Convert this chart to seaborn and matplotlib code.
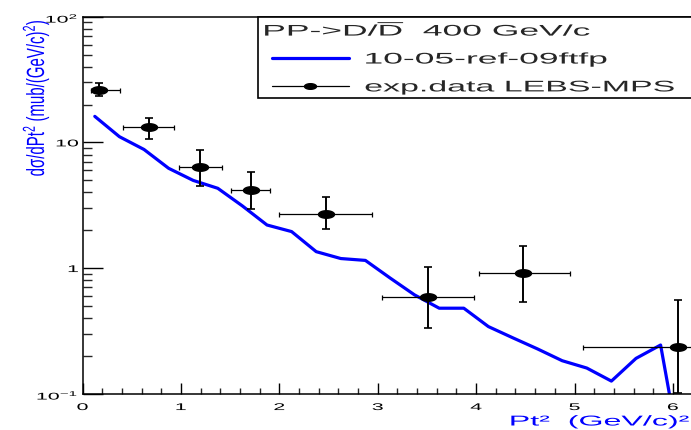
import numpy as np
import matplotlib
matplotlib.use("Agg")
import matplotlib.pyplot as plt
import seaborn as sns
import matplotlib.patheffects as pe
from matplotlib.path import Path
from matplotlib.transforms import Affine2D
from matplotlib.ticker import MultipleLocator, LogLocator, NullFormatter
from matplotlib.lines import Line2D
from matplotlib.legend_handler import HandlerLine2D

# ---------------- data ----------------
model_x = [0.125, 0.375, 0.625, 0.875, 1.125, 1.375, 1.625, 1.875, 2.125, 2.375,
           2.625, 2.875, 3.125, 3.375, 3.625, 3.875, 4.125, 4.375, 4.625, 4.875,
           5.125, 5.375, 5.625, 5.875, 6.125]
model_y = [16.1, 11.1, 8.78, 6.22, 4.98, 4.31, 3.12, 2.20, 1.95, 1.35,
           1.19, 1.15, 0.834, 0.611, 0.479, 0.479, 0.342, 0.278, 0.227, 0.183,
           0.160, 0.126, 0.191, 0.244, 0.02]

exp_x = [0.171, 0.679, 1.194, 1.712, 2.472, 3.508, 4.480, 6.055]
exp_x_low = [0.086, 0.409, 0.981, 1.509, 1.997, 3.041, 4.033, 5.089]
exp_x_high = [0.381, 0.933, 1.421, 1.909, 2.945, 3.982, 4.954, 7.02]
exp_y = [26.1, 13.3, 6.41, 4.18, 2.68, 0.592, 0.91, 0.234]
exp_y_low = [23.4, 10.6, 4.50, 2.97, 2.05, 0.332, 0.541, 0.102]
exp_y_high = [29.8, 15.7, 8.70, 5.81, 3.66, 1.01, 1.51, 0.557]

x_ticks = [0, 1, 2, 3, 4, 5, 6]
x_tick_labels = ["0", "1", "2", "3", "4", "5", "6"]
y_ticks = [0.1, 1, 10, 100]
y_tick_labels = [r"$10^{-1}$", "1", "10", r"$10^{2}$"]

legend_header = r"PP->D/$\overline{\mathrm{D}}$  400 GeV/c"
model_label = "10-05-ref-09ftfp"
exp_label = "exp.data LEBS-MPS"
x_title = "Pt²  (GeV/c)²"
y_title = r"dσ/dPt$^{2}$ (mub/(GeV/c)$^{2}$)"

# ---------------- style ----------------
sns.set_style("white")
plt.rcParams["font.family"] = ["Liberation Sans", "DejaVu Sans"]
plt.rcParams["mathtext.fontset"] = "custom"
plt.rcParams["mathtext.rm"] = "Liberation Sans"
plt.rcParams["mathtext.it"] = "Liberation Sans:italic"
plt.rcParams["mathtext.bf"] = "Liberation Sans:bold"
plt.rcParams["mathtext.sf"] = "Liberation Sans"

BLUE = "#0000ff"


class Stretch(pe.AbstractPathEffect):
    """Draw text glyphs stretched (the reference image is horizontally stretched)."""

    def __init__(self, sx=1.0, sy=1.0, xanchor="center", dx=0.0, dy=0.0):
        super().__init__()
        self.sx, self.sy, self.xanchor = sx, sy, xanchor
        self.dx, self.dy = dx, dy

    def draw_path(self, renderer, gc, tpath, affine, rgbFace=None):
        ext = tpath.get_extents()
        if self.xanchor == "left":
            cx = ext.x0
        elif self.xanchor == "right":
            cx = ext.x1
        else:
            cx = 0.5 * (ext.x0 + ext.x1)
        cy = 0.5 * (ext.y0 + ext.y1)
        t = (Affine2D().translate(-cx, -cy).scale(self.sx, self.sy).translate(cx, cy)
             + affine + Affine2D().translate(self.dx, self.dy))
        renderer.draw_path(gc, tpath, t, rgbFace)


class ShiftedHandler(HandlerLine2D):
    def __init__(self, shift=0.0, **kw):
        super().__init__(**kw)
        self.shift = shift

    def get_xdata(self, legend, xdescent, ydescent, width, height, fontsize):
        x0 = -xdescent + self.shift
        x1 = -xdescent + width
        return [x0, x1], [0.5 * (x0 + x1)]


t = np.linspace(0, 2 * np.pi, 60)
ellipse = Path(np.column_stack([np.cos(t), 0.47 * np.sin(t)]), closed=True)

W, H = 691, 430
fig = plt.figure(figsize=(W / 100, H / 100), dpi=100)
fig.patch.set_facecolor("white")
x0_px, px_per_x = 82.5, 98.4
top_px, bot_px = 16.7, 393.7
xmax = 6.2
ax = fig.add_axes([x0_px / W, (H - bot_px) / H, xmax * px_per_x / W, (bot_px - top_px) / H])
ax.set_facecolor("white")

sns.lineplot(x=model_x, y=model_y, ax=ax, color=BLUE, linewidth=2.3,
             estimator=None, sort=False, legend=False, zorder=2)
ax.set_yscale("log")
ax.set_ylim(0.1, 100)
ax.set_xlim(0, xmax)

ex = np.array(exp_x)
ey = np.array(exp_y)
xerr = [ex - np.array(exp_x_low), np.array(exp_x_high) - ex]
yerr = [ey - np.array(exp_y_low), np.array(exp_y_high) - ey]
ax.errorbar(ex, ey, xerr=xerr, fmt="none", ecolor="black", elinewidth=0.9,
            capsize=1.8, capthick=0.9, zorder=3)
ax.errorbar(ex, ey, yerr=yerr, fmt="none", ecolor="black", elinewidth=1.4,
            capsize=2.9, capthick=1.2, zorder=3)
ax.plot(ex, ey, linestyle="none", marker=ellipse, markersize=11.5,
        color="black", zorder=4)

ax.set_xticks(x_ticks)
ax.set_xticklabels(x_tick_labels)
ax.xaxis.set_minor_locator(MultipleLocator(0.2))
ax.set_yticks(y_ticks)
ax.set_yticklabels(y_tick_labels)
ax.yaxis.set_minor_locator(LogLocator(base=10, subs=np.arange(2, 10), numticks=30))
ax.yaxis.set_minor_formatter(NullFormatter())

ax.tick_params(axis="x", which="major", direction="in", length=8, width=1.0,
               pad=6.0, labelsize=7, top=False, bottom=True, colors="black")
ax.tick_params(axis="x", which="minor", direction="in", length=4.3, width=1.0,
               top=False, bottom=True)
ax.tick_params(axis="y", which="major", direction="in", length=14.4, width=1.0,
               pad=3, labelsize=7, right=False, left=True, colors="black")
ax.tick_params(axis="y", which="minor", direction="in", length=6.5, width=1.0,
               right=False, left=True)
for s in ["left", "bottom", "top"]:
    ax.spines[s].set_linewidth(1.1)
    ax.spines[s].set_color("black")
ax.spines["right"].set_visible(False)

# titles
fig.text(689 / W, 4.5 / H, x_title, color=BLUE, fontsize=10.3, ha="right", va="baseline",
         path_effects=[Stretch(2.25, 1.0, "right")])
fig.text(36 / W, 1 - 19 / H, y_title, color=BLUE, fontsize=10.8, rotation=90,
         ha="center", va="top", path_effects=[Stretch(1.0, 1.65, "center")])

# legend
fs = 11.1
h_model = Line2D([], [], color=BLUE, lw=2.3)
h_exp = Line2D([], [], color="black", lw=0.9, marker=ellipse, markersize=8.6)
leg = ax.legend([h_model, h_exp], [model_label, exp_label], title=legend_header,
                title_fontsize=fs, fontsize=fs, loc="upper left",
                bbox_to_anchor=(258 / W, 0, 450 / W, (H - top_px) / H),
                bbox_transform=fig.transFigure, mode="expand", borderaxespad=0,
                borderpad=0.25, labelspacing=0.9, handlelength=5.64,
                handletextpad=1.05, alignment="left", frameon=True,
                fancybox=False, edgecolor="black", framealpha=1,
                handler_map={Line2D: ShiftedHandler(shift=7.2)})
leg.get_frame().set_linewidth(1.2)
leg.set_zorder(10)

fig.canvas.draw()
for lab in ax.get_xticklabels():
    lab.set_path_effects([Stretch(2.2, 1.0, "center")])
for lab in ax.get_yticklabels():
    lab.set_path_effects([Stretch(2.2, 1.0, "right")])
leg_texts = leg.get_texts()
leg_texts[0].set_path_effects([Stretch(2.3, 1.0, "left")])
leg_texts[1].set_path_effects([Stretch(2.2, 1.0, "left")])
leg.get_title().set_path_effects([Stretch(2.3, 1.0, "left", dx=2)])

fig.savefig("out.png", dpi=100, facecolor="white")
